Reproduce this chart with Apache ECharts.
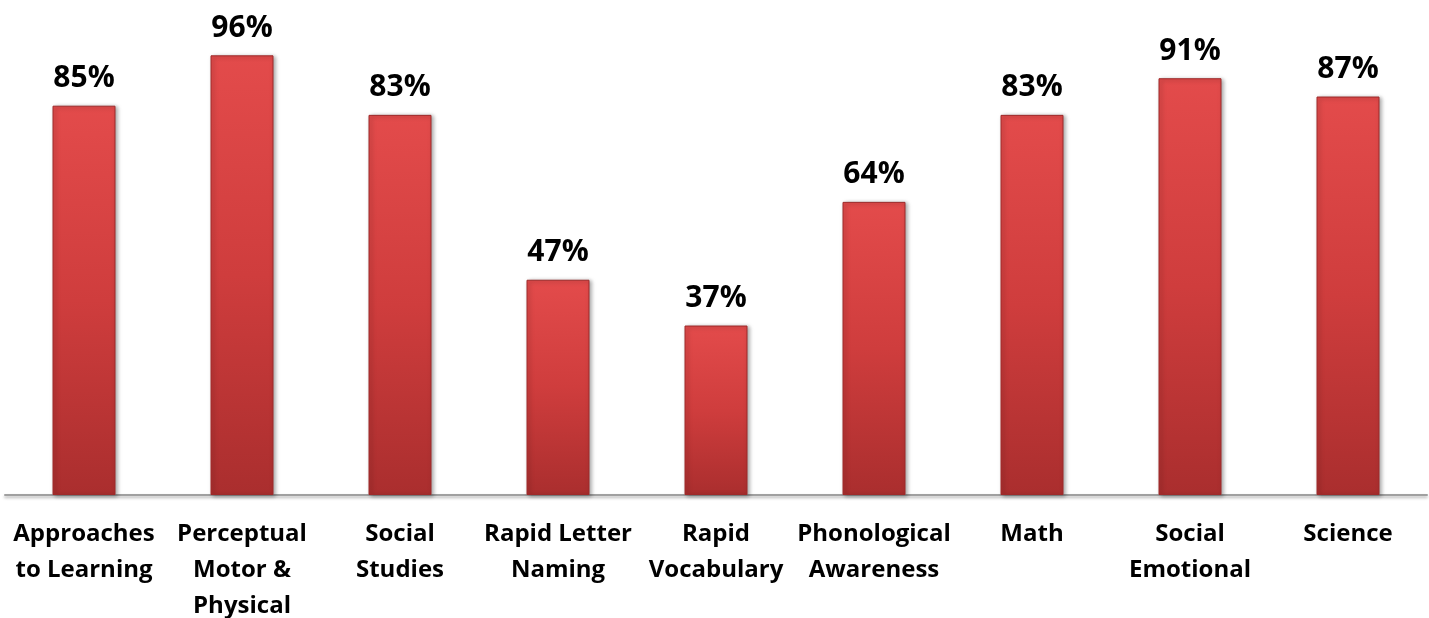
<!DOCTYPE html>
<html>
<head>
<meta charset="utf-8">
<script src="https://cdn.jsdelivr.net/npm/echarts@6/dist/echarts.min.js"></script>
<style>
  html, body { margin: 0; padding: 0; background: #fff; }
  #chart { width: 1429px; height: 618px; }
</style>
</head>
<body>
<div id="chart"></div>
<script>
const categories = ['Approaches\nto Learning', 'Perceptual\nMotor &\nPhysical', 'Social\nStudies',
  'Rapid Letter\nNaming', 'Rapid\nVocabulary', 'Phonological\nAwareness', 'Math', 'Social\nEmotional', 'Science'];
const values = [85, 96, 83, 47, 37, 64, 83, 91, 87];

const chart = echarts.init(document.getElementById('chart'));

chart.setOption({
  animation: false,
  grid: { left: 5, right: 2, top: 37, bottom: 123, outerBoundsMode: 'none', containLabel: false },
  xAxis: {
    type: 'category',
    data: categories,
    axisTick: { show: false },
    axisLine: { lineStyle: { color: '#a0a0a0', width: 2, shadowColor: 'rgba(0,0,0,0.3)', shadowBlur: 3, shadowOffsetY: 2 } },
    axisLabel: {
      interval: 0,
      margin: 21,
      fontFamily: 'Open Sans',
      fontWeight: 'bold',
      fontSize: 24,
      lineHeight: 36,
      color: '#000'
    }
  },
  yAxis: {
    type: 'value',
    min: 0,
    max: 100,
    show: false,
    splitLine: { show: false }
  },
  series: [{
    type: 'bar',
    data: values,
    barWidth: 63,
    itemStyle: {
      color: new echarts.graphic.LinearGradient(0, 0, 0, 1, [
        { offset: 0, color: '#e34b4b' },
        { offset: 0.5, color: '#cf3d3d' },
        { offset: 1, color: '#aa2e2e' }
      ]),
      borderColor: '#9e2a2a',
      borderWidth: 1,
      shadowColor: 'rgba(0,0,0,0.35)',
      shadowBlur: 4,
      shadowOffsetX: 2,
      shadowOffsetY: 1
    },
    label: {
      show: true,
      position: 'top',
      distance: 12,
      formatter: '{c}%',
      fontFamily: 'Open Sans',
      fontWeight: 'bold',
      fontSize: 30,
      color: '#000'
    }
  }]
});
</script>
</body>
</html>
